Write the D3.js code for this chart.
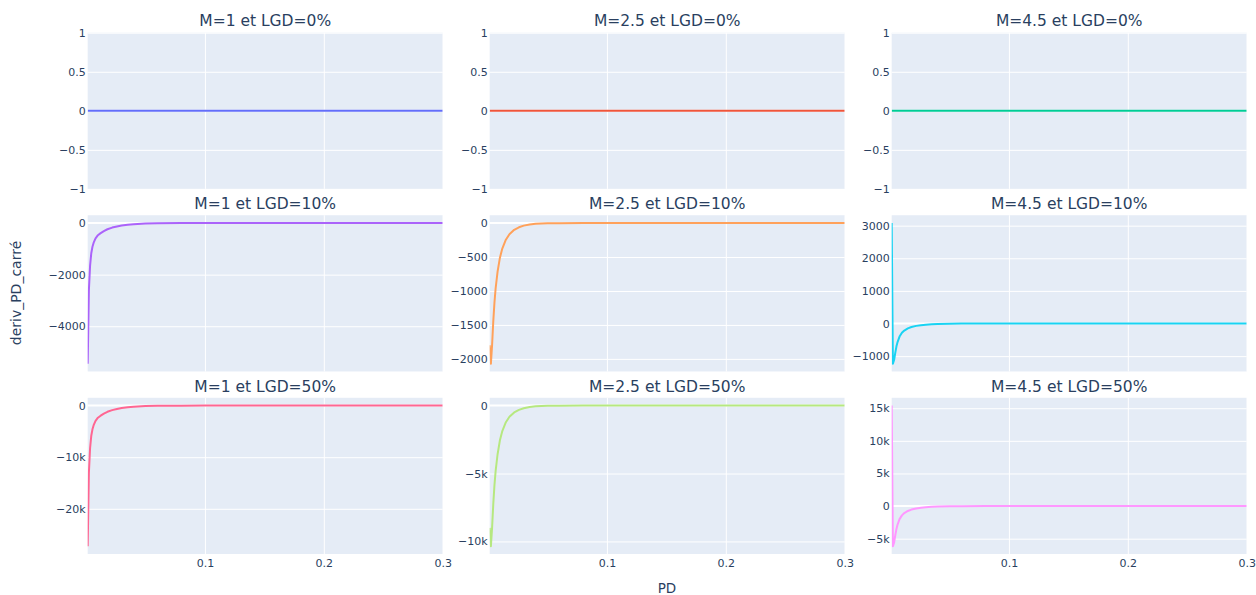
<!DOCTYPE html>
<html><head><meta charset="utf-8">
<script src="https://cdn.jsdelivr.net/npm/d3@7"></script>
<style>body{margin:0;background:#fff;} svg{display:block;font-family:"DejaVu Sans",Verdana,sans-serif;}</style>
</head><body><svg id="chart" width="1256" height="595"></svg>
<script>
// ---- data ----
const pd = [0.0014, 0.0024, 0.0034, 0.0044, 0.0054, 0.0064, 0.008, 0.010, 0.012, 0.015, 0.018, 0.022,
            0.026, 0.030, 0.035, 0.040, 0.050, 0.060, 0.080, 0.10, 0.15, 0.20, 0.25, 0.30];

const deriv_M1_LGD0  = [0,0,0,0,0,0,0,0,0,0,0,0,0,0,0,0,0,0,0,0,0,0,0,0];
const deriv_M25_LGD0 = [0,0,0,0,0,0,0,0,0,0,0,0,0,0,0,0,0,0,0,0,0,0,0,0];
const deriv_M45_LGD0 = [0,0,0,0,0,0,0,0,0,0,0,0,0,0,0,0,0,0,0,0,0,0,0,0];

const deriv_M1_LGD10  = [-5450, -2600, -1650, -1170, -920, -760, -590, -470, -400, -310, -240, -175,
                         -130, -95, -64, -42, -18, -8, -1.5, -0.3, 0, 0, 0, 0];
const deriv_M25_LGD10 = [-1800, -2070, -1800, -1450, -1170, -960, -720, -510, -375, -245, -165, -100,
                         -62, -38, -21, -11, -3, -1, 0, 0, 0, 0, 0, 0];
const deriv_M45_LGD10 = [3080, -1230, -1120, -900, -700, -560, -400, -285, -215, -150, -108, -72,
                         -50, -35, -22, -14, -6, -2.5, -0.5, 0, 0, 0, 0, 0];

const deriv_M1_LGD50  = [-27250, -13000, -8250, -5850, -4600, -3800, -2950, -2350, -2000, -1550, -1200, -875,
                         -650, -475, -320, -210, -90, -40, -7.5, -1.5, 0, 0, 0, 0];
const deriv_M25_LGD50 = [-9000, -10350, -9000, -7250, -5850, -4800, -3600, -2550, -1875, -1225, -825, -500,
                         -310, -190, -105, -55, -15, -5, 0, 0, 0, 0, 0, 0];
const deriv_M45_LGD50 = [15400, -6150, -5600, -4500, -3500, -2800, -2000, -1425, -1075, -750, -540, -360,
                         -250, -175, -110, -70, -30, -12.5, -2.5, 0, 0, 0, 0, 0];

const titles = ["M=1 et LGD=0%", "M=2.5 et LGD=0%", "M=4.5 et LGD=0%",
                "M=1 et LGD=10%", "M=2.5 et LGD=10%", "M=4.5 et LGD=10%",
                "M=1 et LGD=50%", "M=2.5 et LGD=50%", "M=4.5 et LGD=50%"];

const xTicks = [0.1, 0.2, 0.3];
const xTickLabels = ["0.1", "0.2", "0.3"];

const yTicks = [
  [-1, -0.5, 0, 0.5, 1], [-1, -0.5, 0, 0.5, 1], [-1, -0.5, 0, 0.5, 1],
  [-4000, -2000, 0], [-2000, -1500, -1000, -500, 0], [-1000, 0, 1000, 2000, 3000],
  [-20000, -10000, 0], [-10000, -5000, 0], [-5000, 0, 5000, 10000, 15000]
];
const yTickLabels = [
  ["−1", "−0.5", "0", "0.5", "1"], ["−1", "−0.5", "0", "0.5", "1"], ["−1", "−0.5", "0", "0.5", "1"],
  ["−4000", "−2000", "0"], ["−2000", "−1500", "−1000", "−500", "0"], ["−1000", "0", "1000", "2000", "3000"],
  ["−20k", "−10k", "0"], ["−10k", "−5k", "0"], ["−5k", "0", "5k", "10k", "15k"]
];

// ---- styles / layout ----
const colors = ["#636efa", "#EF553B", "#00cc96", "#ab63fa", "#FFA15A", "#19d3f3", "#FF6692", "#B6E880", "#FF97FF"];
const seriesList = [deriv_M1_LGD0, deriv_M25_LGD0, deriv_M45_LGD0,
                    deriv_M1_LGD10, deriv_M25_LGD10, deriv_M45_LGD10,
                    deriv_M1_LGD50, deriv_M25_LGD50, deriv_M45_LGD50];
const colLefts = [87.7, 489.7, 891.7], colW = 355;
const rowTops = [32.7, 215.25, 397.8], rowH = 156.2;
const textColor = "#2a3f5f";
const FONT = '"DejaVu Sans", Verdana, sans-serif';

const svg = d3.select("#chart");
const defs = svg.append("defs");

seriesList.forEach((vals, i) => {
  const r = Math.floor(i / 3), c = i % 3;
  const L = colLefts[c], T = rowTops[r];
  const x = d3.scaleLinear().domain([pd[0], 0.3]).range([L, L + colW]);
  let [mn, mx] = d3.extent(vals);
  let dom;
  if (mx - mn === 0) dom = [mn - 1, mx + 1];
  else { const pad = (mx - mn) * 0.05 / 0.9; dom = [mn - pad, mx + pad]; }
  const y = d3.scaleLinear().domain(dom).range([T + rowH, T]);

  const g = svg.append("g");
  g.append("rect").attr("x", L).attr("y", T).attr("width", colW).attr("height", rowH).attr("fill", "#E5ECF6");

  // vertical grid
  const gx = g.append("g").attr("transform", `translate(0,${T + rowH})`)
    .call(d3.axisBottom(x).tickValues(xTicks).tickSize(-rowH).tickFormat(""));
  gx.select(".domain").remove();
  gx.selectAll("line").attr("stroke", "#fff").attr("stroke-width", 1);

  // horizontal grid (without zero)
  const gy = g.append("g").attr("transform", `translate(${L},0)`)
    .call(d3.axisLeft(y).tickValues(yTicks[i].filter(v => v !== 0)).tickSize(-colW).tickFormat(""));
  gy.select(".domain").remove();
  gy.selectAll("line").attr("stroke", "#fff").attr("stroke-width", 1);

  // zero line
  if (dom[0] < 0 && dom[1] > 0) {
    g.append("line").attr("x1", L).attr("x2", L + colW)
      .attr("y1", y(0)).attr("y2", y(0)).attr("stroke", "#fff").attr("stroke-width", 2);
  }

  // clip
  const cid = "clip" + i;
  defs.append("clipPath").attr("id", cid).append("rect")
    .attr("x", L).attr("y", T).attr("width", colW).attr("height", rowH);

  const line = d3.line().x((d, k) => x(pd[k])).y(d => y(d));
  g.append("path").datum(vals).attr("d", line).attr("fill", "none")
    .attr("stroke", colors[i]).attr("stroke-width", 2).attr("stroke-linejoin", "round")
    .attr("clip-path", `url(#${cid})`);

  // y tick labels
  const ya = g.append("g").attr("transform", `translate(${L},0)`)
    .call(d3.axisLeft(y).tickValues(yTicks[i]).tickSize(0).tickPadding(2)
      .tickFormat((d, k) => yTickLabels[i][k]));
  ya.select(".domain").remove();
  ya.selectAll("text").attr("font-size", 11).attr("fill", textColor).attr("font-family", FONT);

  // x tick labels on bottom row
  if (r === 2) {
    const xa = g.append("g").attr("transform", `translate(0,${T + rowH})`)
      .call(d3.axisBottom(x).tickValues(xTicks).tickSize(0).tickPadding(5)
        .tickFormat((d, k) => xTickLabels[k]));
    xa.select(".domain").remove();
    xa.selectAll("text").attr("font-size", 11).attr("fill", textColor).attr("font-family", FONT);
  }

  // title
  g.append("text").attr("x", L + colW / 2).attr("y", T - 6.3).attr("text-anchor", "middle")
    .attr("font-size", 15.5).attr("fill", textColor).text(titles[i]);
});

svg.append("text").attr("x", 667).attr("y", 593).attr("text-anchor", "middle")
  .attr("font-size", 13.5).attr("fill", textColor).text("PD");
svg.append("text").attr("transform", "translate(17,293) rotate(-90)").attr("text-anchor", "middle")
  .attr("dominant-baseline", "middle").attr("font-size", 14).attr("fill", textColor).text("deriv_PD_carré");
</script></body></html>
